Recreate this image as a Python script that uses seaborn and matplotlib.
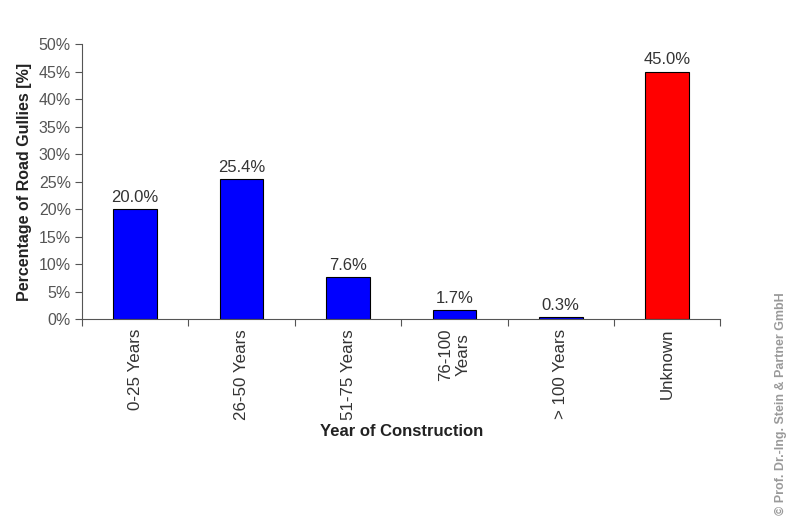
import matplotlib
matplotlib.use("Agg")
import matplotlib.pyplot as plt
from matplotlib.ticker import FuncFormatter, FixedLocator
import seaborn as sns

categories = ["0-25 Years", "26-50 Years", "51-75 Years", "76-100\nYears", "> 100 Years", "Unknown"]
shares = [20.0, 25.4, 7.6, 1.7, 0.3, 45.0]
bar_colors = ["#0000ff", "#0000ff", "#0000ff", "#0000ff", "#0000ff", "#ff0000"]
y_ticks = [0, 5, 10, 15, 20, 25, 30, 35, 40, 45, 50]

sns.set_style("white")
plt.rcParams["font.family"] = ["Liberation Sans", "DejaVu Sans"]

fig = plt.figure(figsize=(7.89, 5.18), dpi=100)
ax = fig.add_axes([0.104, 0.384, 0.809, 0.531])

sns.barplot(x=categories, y=shares, hue=categories, palette=bar_colors,
            legend=False, width=0.41, edgecolor="black", linewidth=0.8,
            saturation=1, ax=ax)

for cont in ax.containers:
    ax.bar_label(cont, fmt="%.1f%%", padding=3, fontsize=12, color="#333333")

ax.set_xlim(-0.5, 5.5)
ax.set_ylim(0, 50)
ax.set_yticks(y_ticks)
ax.yaxis.set_major_formatter(FuncFormatter(lambda v, _: f"{v:.0f}%"))

ax.set_xticks(range(len(categories)))
ax.set_xticklabels(categories, rotation=90, va="top", ha="center",
                   multialignment="center")
ax.xaxis.set_minor_locator(FixedLocator([i - 0.5 for i in range(len(categories) + 1)]))
ax.tick_params(axis="x", which="major", length=0, pad=7, labelsize=12.2, labelcolor="#333333")
ax.tick_params(axis="x", which="minor", length=5, width=0.8, color="#555555", direction="out", bottom=True)
ax.tick_params(axis="y", which="major", length=5, width=0.8, color="#555555", direction="out",
               left=True, labelsize=11.5, labelcolor="#555555", pad=3)

for side in ("top", "right"):
    ax.spines[side].set_visible(False)
for side in ("left", "bottom"):
    ax.spines[side].set_color("#555555")
    ax.spines[side].set_linewidth(0.8)

ax.set_xlabel("Year of Construction", fontsize=12, fontweight="bold", color="#222222", labelpad=3)
ax.set_ylabel("Percentage of Road Gullies [%]", fontsize=11.5, fontweight="bold", color="#222222", labelpad=5)

fig.text(0.997, 0.006, "© Prof. Dr.-Ing. Stein & Partner GmbH", rotation=90,
         ha="right", va="bottom", fontsize=9, fontweight="bold", color="#9a9a9a")

fig.savefig("out.png", dpi=100, facecolor="white")
